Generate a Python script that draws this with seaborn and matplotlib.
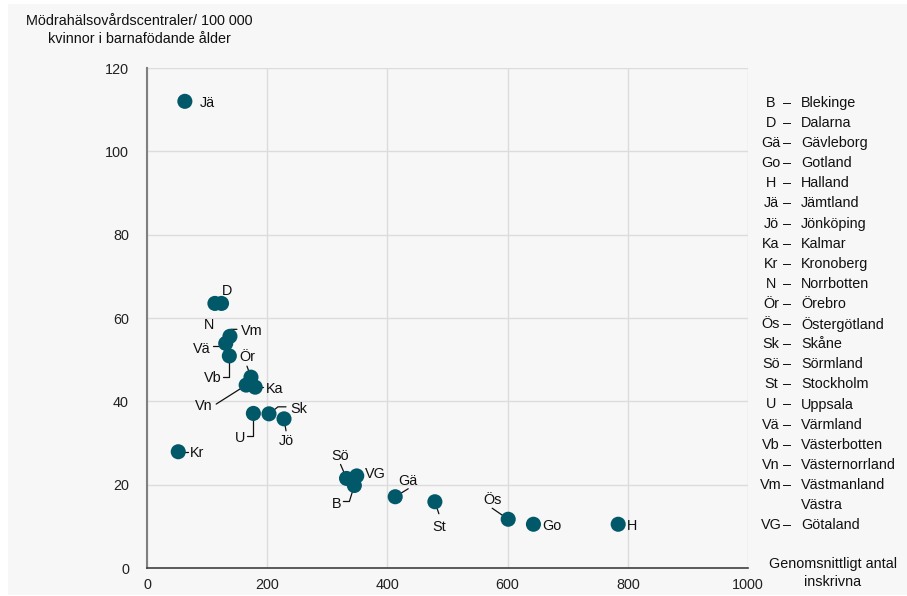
import matplotlib
matplotlib.use("Agg")
import matplotlib.pyplot as plt
import matplotlib.transforms as mtransforms
from matplotlib.patches import Rectangle
import seaborn as sns
import pandas as pd

# ---- data ----
codes = ["Jä", "D", "N", "Vm", "Vä", "Vb", "Ör", "Vn", "Ka", "U", "Sk", "Jö", "Kr",
         "Sö", "VG", "B", "Gä", "St", "Ös", "Go", "H"]
inskrivna = [63, 124, 113, 138, 131, 137, 173, 165, 180, 177, 203, 228, 52,
             332, 349, 345, 413, 479, 601, 643, 784]
mvc_per_100k = [112, 63.5, 63.5, 55.6, 53.9, 50.9, 45.8, 43.9, 43.4, 37.1, 37.0, 35.8, 27.9,
                21.5, 22.1, 19.8, 17.1, 15.9, 11.7, 10.5, 10.5]

legend_codes = ["B", "D", "Gä", "Go", "H", "Jä", "Jö", "Ka", "Kr", "N", "Ör", "Ös", "Sk",
                "Sö", "St", "U", "Vä", "Vb", "Vn", "Vm", "", "VG"]
legend_names = ["Blekinge", "Dalarna", "Gävleborg", "Gotland", "Halland", "Jämtland",
                "Jönköping", "Kalmar", "Kronoberg", "Norrbotten", "Örebro", "Östergötland",
                "Skåne", "Sörmland", "Stockholm", "Uppsala", "Värmland", "Västerbotten",
                "Västernorrland", "Västmanland", "Västra", "Götaland"]

x_ticks = [0, 200, 400, 600, 800, 1000]
y_ticks = [0, 20, 40, 60, 80, 100, 120]

# label placement: (dx, dy, ha, leader path) in pixels, dy positive = downwards
label_style = {
    "Jä": (15, 0, "left", None),
    "D": (6, -14, "center", None),
    "N": (-6, 20, "center", None),
    "Vm": (11, -7, "left", [(0, 0), (1, -7), (7, -7)]),
    "Vä": (-15, 4, "right", [(0, 3), (-13, 3)]),
    "Vb": (-8, 21, "right", [(0, 0), (0, 21), (-6, 21)]),
    "Ör": (-4, -22, "center", [(-4, -11), (0, 0)]),
    "Ka": (11, 0, "left", [(0, 0), (8, 0)]),
    "Vn": (-34, 19, "right", [(0, 0), (-30, 19)]),
    "U": (-8, 23, "right", [(0, 0), (0, 23), (-6, 23)]),
    "Sk": (21, -6, "left", [(0, 0), (9, -7), (17, -7)]),
    "Jö": (2, 21, "center", [(0, 0), (2, 12)]),
    "Kr": (12, 0, "left", [(0, 0), (10, 0)]),
    "Sö": (-6, -24, "center", [(-6, -14), (0, 0)]),
    "VG": (8, -3, "left", [(0, 0), (0, -5), (4, -5)]),
    "B": (-13, 17, "right", [(0, 0), (-5, 16), (-11, 16)]),
    "Gä": (13, -17, "center", [(0, 0), (13, -8)]),
    "St": (4, 24, "center", [(0, 0), (4, 12)]),
    "Ös": (-16, -21, "center", [(-16, -11), (0, 0)]),
    "Go": (9, 0, "left", None),
    "H": (9, 0, "left", None),
}

df = pd.DataFrame({"code": codes, "x": inskrivna, "y": mvc_per_100k})

sns.set_theme(style="white")
plt.rcParams["font.family"] = ["Liberation Sans", "DejaVu Sans"]

FS = 10.4
W, H = 907, 596
BG = "#f7f7f7"
TEAL = "#005868"
TXT = "#111111"
fig = plt.figure(figsize=(W / 100, H / 100), dpi=100, facecolor="white")
fig.patches.append(Rectangle((8 / W, 1 / H), 1, (H - 5) / H, transform=fig.transFigure,
                             facecolor=BG, edgecolor="none", zorder=-10))

ax = fig.add_axes([147 / W, (H - 568) / H, (748 - 147) / W, (568 - 68) / H])
ax.set_facecolor(BG)

sns.scatterplot(data=df, x="x", y="y", ax=ax, s=118, color=TEAL, edgecolor="none",
                zorder=3, legend=False)

ax.set_xlim(0, 1000)
ax.set_ylim(0, 120)
ax.set_xticks(x_ticks)
ax.set_yticks(y_ticks)
ax.set_xlabel("")
ax.set_ylabel("")
ax.grid(True, color="#dcdcdc", linewidth=1)
ax.set_axisbelow(True)
for side in ["top", "right"]:
    ax.spines[side].set_visible(False)
ax.spines["left"].set_color("#808080")
ax.spines["left"].set_linewidth(1.5)
ax.spines["bottom"].set_color("#404040")
ax.spines["bottom"].set_linewidth(1.2)
ax.tick_params(axis="both", length=0, labelsize=FS, colors="#222222")
ax.tick_params(axis="y", pad=13)
ax.tick_params(axis="x", pad=7)

for _, row in df.iterrows():
    dx, dy, ha, path = label_style[row["code"]]
    tr = mtransforms.Affine2D().scale(1, -1) + mtransforms.ScaledTranslation(
        row["x"], row["y"], ax.transData)
    ax.text(dx, dy, row["code"], transform=tr, ha=ha, va="center_baseline",
            fontsize=FS, color=TXT, zorder=4)
    if path:
        ax.plot([p[0] for p in path], [p[1] for p in path], transform=tr,
                color=TXT, linewidth=0.9, zorder=2, clip_on=False)

# axis titles
fig.text(139 / W, 1 - 30 / H, "Mödrahälsovårdscentraler/ 100 000\nkvinnor i barnafödande ålder",
         ha="center", va="center", fontsize=FS, linespacing=1.4, color=TXT)
fig.text(833 / W, 1 - 573 / H, "Genomsnittligt antal\ninskrivna",
         ha="center", va="center", fontsize=FS, linespacing=1.3, color=TXT)

# right-hand key
for i, (c, n) in enumerate(zip(legend_codes, legend_names)):
    yy = 1 - (103 + i * 20.1) / H
    if c:
        fig.text(771 / W, yy, c, ha="center", va="center", fontsize=FS, color=TXT)
        fig.text(787 / W, yy, "–", ha="center", va="center", fontsize=FS, color=TXT)
    fig.text(801 / W, yy, n, ha="left", va="center", fontsize=FS, color=TXT)

fig.savefig("out.png", dpi=100, facecolor=fig.get_facecolor())
